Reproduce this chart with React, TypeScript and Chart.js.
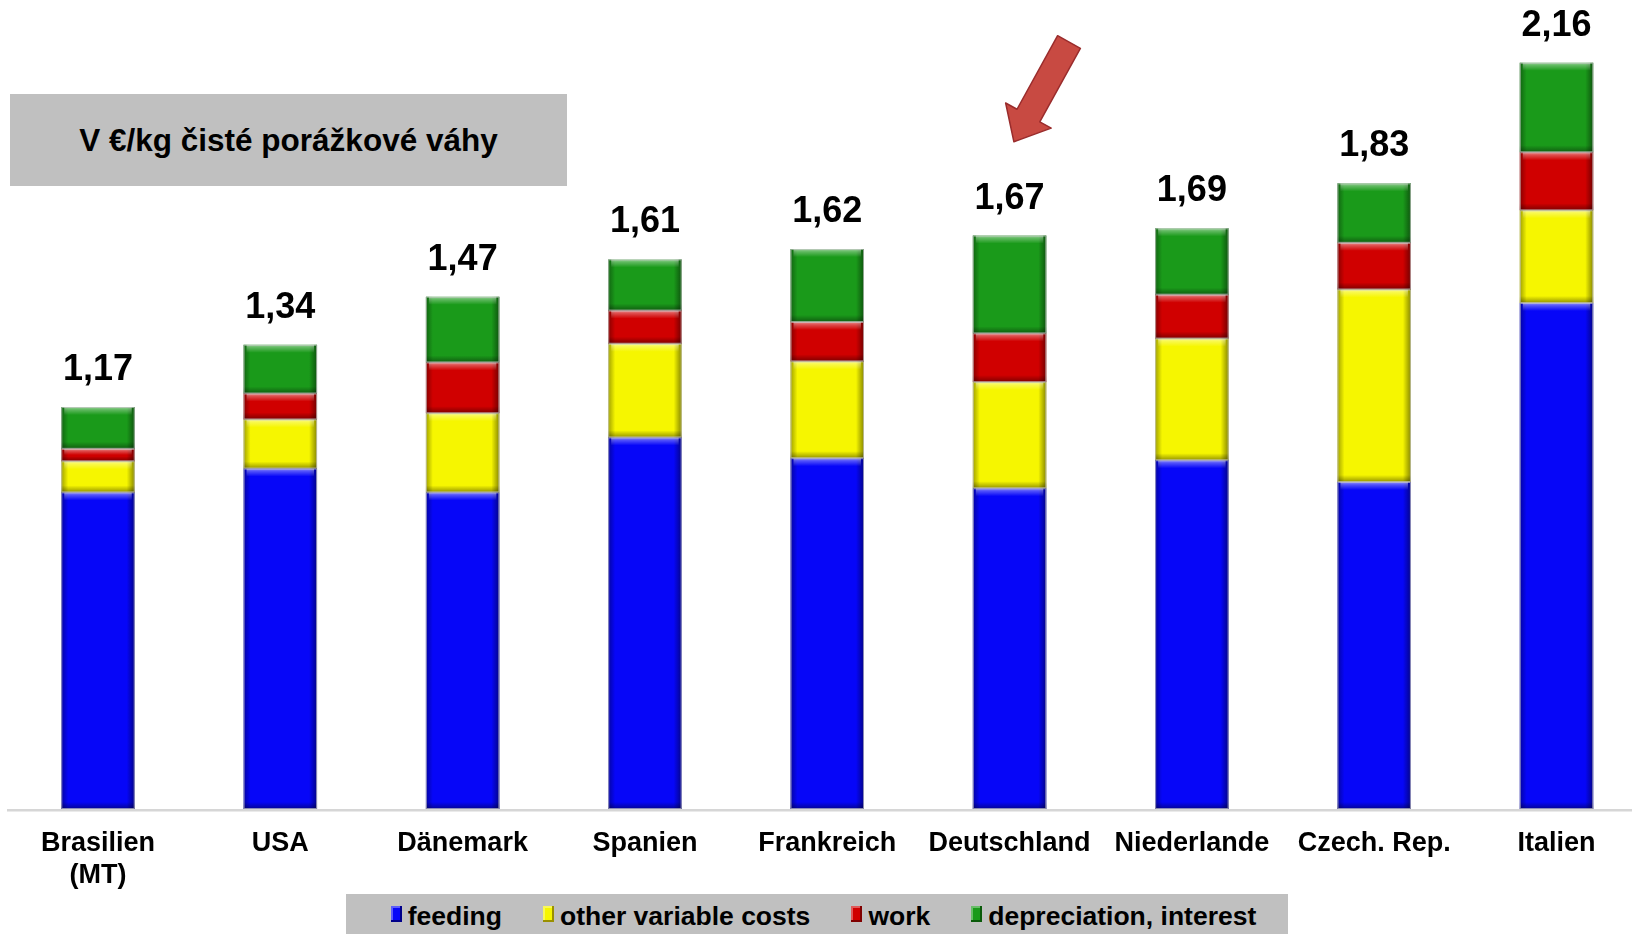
import React, { useEffect, useRef } from 'react';
import { Chart, registerables } from 'chart.js';

Chart.register(...registerables);

const categories: (string | string[])[] = [
  ['Brasilien', '(MT)'],
  'USA',
  'Dänemark',
  'Spanien',
  'Frankreich',
  'Deutschland',
  'Niederlande',
  'Czech. Rep.',
  'Italien',
];
const feeding = [0.916, 0.985, 0.916, 1.075, 1.015, 0.928, 1.009, 0.946, 1.464];
const otherVariable = [0.09, 0.142, 0.229, 0.271, 0.28, 0.307, 0.352, 0.557, 0.268];
const work = [0.036, 0.075, 0.147, 0.096, 0.114, 0.141, 0.127, 0.135, 0.168];
const depreciation = [0.121, 0.141, 0.19, 0.148, 0.211, 0.283, 0.192, 0.172, 0.259];
const totalLabels = ['1,17', '1,34', '1,47', '1,61', '1,62', '1,67', '1,69', '1,83', '2,16'];
const seriesNames = ['feeding', 'other variable costs', 'work', 'depreciation, interest'];
const seriesColors = ['#0606f8', '#f6f600', '#d00000', '#1a9a1a'];
const seriesEdges = ['#00008a', '#9a9000', '#800000', '#0a5a0a'];
const titleText = 'V €/kg čisté porážkové váhy';

const FONT = "'Liberation Sans', Arial, sans-serif";

const bevelPlugin = {
  id: 'bevel',
  beforeDatasetsDraw(chart: any) {
    const ctx = chart.ctx;
    const y = chart.chartArea.bottom;
    ctx.save();
    ctx.fillStyle = '#d6d6d6';
    ctx.fillRect(7, y, chart.width - 7, 2.5);
    ctx.restore();
  },
  afterDatasetsDraw(chart: any) {
    const ctx = chart.ctx;
    ctx.save();
    chart.data.datasets.forEach((_ds: any, di: number) => {
      const meta = chart.getDatasetMeta(di);
      meta.data.forEach((el: any) => {
        const p = el.getProps(['x', 'y', 'base', 'width'], true);
        const l = p.x - p.width / 2;
        const r = p.x + p.width / 2;
        const t = Math.min(p.y, p.base);
        const b = Math.max(p.y, p.base);
        const h = b - t;
        if (h <= 0) return;
        const e = Math.min(6, h / 3);
        let g = ctx.createLinearGradient(l, 0, l + 7, 0);
        g.addColorStop(0, 'rgba(0,0,0,0.35)');
        g.addColorStop(1, 'rgba(0,0,0,0)');
        ctx.fillStyle = g;
        ctx.fillRect(l, t, 7, h);
        g = ctx.createLinearGradient(r, 0, r - 8, 0);
        g.addColorStop(0, 'rgba(0,0,0,0.45)');
        g.addColorStop(1, 'rgba(0,0,0,0)');
        ctx.fillStyle = g;
        ctx.fillRect(r - 8, t, 8, h);
        g = ctx.createLinearGradient(0, t, 0, t + e + 2);
        g.addColorStop(0, 'rgba(255,255,255,0.55)');
        g.addColorStop(0.35, 'rgba(255,255,255,0.3)');
        g.addColorStop(1, 'rgba(255,255,255,0)');
        ctx.fillStyle = g;
        ctx.fillRect(l + 3, t, p.width - 6, e + 2);
        g = ctx.createLinearGradient(0, b, 0, b - e - 1);
        g.addColorStop(0, 'rgba(0,0,0,0.4)');
        g.addColorStop(1, 'rgba(0,0,0,0)');
        ctx.fillStyle = g;
        ctx.fillRect(l, b - e - 1, p.width, e + 1);
        ctx.strokeStyle = 'rgba(200,200,200,0.7)';
        ctx.lineWidth = 1;
        ctx.strokeRect(l + 0.5, t + 0.5, p.width - 1, h - 1);
      });
    });
    ctx.restore();
  },
};

const totalsPlugin = {
  id: 'totals',
  afterDraw(chart: any) {
    const ctx = chart.ctx;
    const last = chart.data.datasets.length - 1;
    const meta = chart.getDatasetMeta(last);
    ctx.save();
    ctx.font = `bold 36px ${FONT}`;
    ctx.fillStyle = '#000';
    ctx.textAlign = 'center';
    ctx.textBaseline = 'alphabetic';
    meta.data.forEach((el: any, i: number) => {
      const p = el.getProps(['x', 'y'], true);
      ctx.fillText(totalLabels[i], p.x, p.y - 27);
    });
    ctx.restore();
  },
};

export default function App() {
  const ref = useRef<HTMLCanvasElement>(null);

  useEffect(() => {
    const canvas = ref.current;
    if (!canvas) return;
    const values = [feeding, otherVariable, work, depreciation];
    const chart = new Chart(canvas, {
      type: 'bar',
      data: {
        labels: categories as any,
        datasets: values.map((v, i) => ({
          label: seriesNames[i],
          data: v,
          backgroundColor: seriesColors[i],
          borderColor: seriesEdges[i],
          borderWidth: 0,
          barPercentage: 0.403,
          categoryPercentage: 1,
          clip: false as any,
        })),
      },
      options: {
        responsive: false,
        animation: false,
        devicePixelRatio: 1,
        layout: { padding: { left: 98, right: 75.5, top: 14, bottom: 0 } },
        plugins: {
          legend: { display: false },
          tooltip: { enabled: false },
          title: { display: false },
        },
        scales: {
          x: {
            stacked: true,
            offset: false,
            grid: { display: false, drawTicks: false, tickLength: 0 },
            border: { display: false },
            ticks: {
              color: '#000',
              font: { family: FONT, size: 27, weight: 'bold', lineHeight: 1.2 },
              padding: 18,
              maxRotation: 0,
              minRotation: 0,
              autoSkip: false,
            },
            afterFit: (scale: any) => {
              scale.height = 125;
            },
          },
          y: {
            stacked: true,
            display: false,
            min: 0,
            max: 2.3,
          },
        },
      },
      plugins: [bevelPlugin, totalsPlugin],
    } as any);
    return () => chart.destroy();
  }, []);

  return (
    <div
      style={{
        position: 'fixed',
        left: 0,
        top: 0,
        width: 1632,
        height: 934,
        background: '#fff',
        overflow: 'hidden',
        fontFamily: FONT,
      }}
    >
      <canvas ref={ref} width={1632} height={934} style={{ position: 'absolute', left: 0, top: 0 }} />
      <div
        style={{
          position: 'absolute',
          left: 10,
          top: 94,
          width: 557,
          height: 92,
          background: '#c0c0c0',
          display: 'flex',
          alignItems: 'center',
          justifyContent: 'center',
          fontWeight: 'bold',
          fontSize: 31.5,
          color: '#000',
        }}
      >
        {titleText}
      </div>
      <svg
        width={1632}
        height={934}
        style={{ position: 'absolute', left: 0, top: 0, pointerEvents: 'none' }}
      >
        <g transform="translate(1069,42) rotate(28.9)">
          <polygon
            points="-13,0 13,0 13,84 26,84 0,114 -26,84 -13,84"
            fill="#c84a42"
            stroke="#9a2c2c"
            strokeWidth={1.5}
            strokeLinejoin="round"
          />
        </g>
      </svg>
      <div
        style={{
          position: 'absolute',
          left: 346,
          top: 894,
          width: 942,
          height: 40,
          background: '#c0c0c0',
          display: 'flex',
          alignItems: 'center',
          justifyContent: 'center',
          paddingLeft: 13,
          boxSizing: 'border-box',
        }}
      >
        {seriesNames.map((name, i) => (
          <div
            key={name}
            style={{
              display: 'flex',
              alignItems: 'center',
              marginRight: i < seriesNames.length - 1 ? 41 : 0,
            }}
          >
            <span
              style={{
                display: 'inline-block',
                width: 11,
                height: 16,
                background: seriesColors[i],
                boxShadow: `inset -2px -2px 0 ${seriesEdges[i]}, inset 2px 2px 0 rgba(255,255,255,0.35)`,
                marginRight: 6,
              }}
            />
            <span style={{ fontWeight: 'bold', fontSize: 26.5, color: '#000', lineHeight: '40px', marginTop: 4 }}>
              {name}
            </span>
          </div>
        ))}
      </div>
    </div>
  );
}
